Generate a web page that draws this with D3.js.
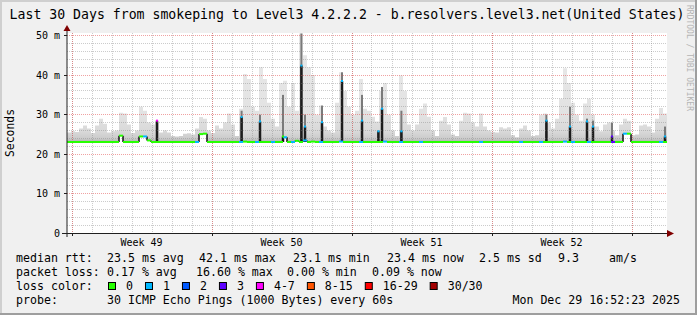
<!DOCTYPE html>
<html>
<head>
<meta charset="utf-8">
<title>Last 30 Days from smokeping to Level3 4.2.2.2</title>
<script src="https://d3js.org/d3.v7.min.js"></script>
<style>
  body { margin: 0; background: #fff; }
  svg text { font-family: "DejaVu Sans Mono", monospace; fill: #000; }
</style>
</head>
<body>
<div id="chart"></div>
<script>
// ---- data ----
const startTime = new Date(Date.UTC(2025, 10, 29, 18, 36)); // left edge of the graph
const endTime = new Date(Date.UTC(2025, 11, 29, 18, 36));
const bucketHours = 4.8; // one value every 4.8 h (150 values over 30 days)

// median rtt in ms per bucket
const medianMs = [
  23.1, 23.1, 23.1, 23.1, 23.1, 23.1, 23.1, 23.1, 23.1, 23.1,
  23.1, 23.1, 23.1, 24.7, 23.1, 23.1, 23.1, 23.1, 24.5, 24.5,
  23.5, 23.1, 23.1, 23.1, 23.1, 23.1, 23.1, 23.1, 23.1, 23.1,
  23.1, 23.1, 23.1, 25.1, 25.2, 23.1, 23.1, 23.1, 23.1, 23.1,
  23.1, 23.1, 23.1, 23.1, 23.2, 23.1, 23.1, 23.1, 23.1, 23.1,
  23.1, 23.1, 23.1, 23.1, 24.3, 23.1, 23.1, 23.4, 23.1, 23.5,
  23.1, 23.2, 23.1, 23.1, 23.1, 23.1, 23.1, 23.1, 23.2, 23.1,
  23.1, 23.1, 23.1, 23.1, 23.1, 23.1, 23.1, 23.1, 23.1, 23.2,
  23.1, 23.1, 23.1, 23.1, 23.1, 23.1, 23.1, 23.1, 23.1, 23.1,
  23.1, 23.1, 23.1, 23.1, 23.1, 23.1, 23.1, 23.1, 23.1, 23.1,
  23.1, 23.1, 23.1, 23.1, 23.1, 23.1, 23.1, 23.1, 23.1, 23.1,
  23.1, 23.1, 23.1, 23.1, 23.1, 23.1, 23.1, 23.1, 23.1, 23.1,
  23.1, 23.1, 23.1, 23.1, 23.2, 23.1, 23.1, 23.1, 23.1, 23.1,
  23.1, 23.1, 23.1, 23.1, 23.1, 23.1, 23.1, 23.1, 23.1, 25.2,
  25.2, 23.1, 23.1, 23.1, 23.1, 23.1, 23.1, 23.1, 23.1, 23.1
];

// highest ping of the bucket (top of the smoke) in ms
const smokeTopMs = [
  25.5, 25.8, 25.6, 26.5, 27.3, 26.5, 25.4, 27.3, 29.0, 27.7,
  25.5, 25.8, 26.0, 30.5, 30.3, 27.5, 25.4, 26.0, 32.0, 31.0,
  28.0, 27.5, 28.0, 25.5, 26.0, 25.5, 24.6, 24.5, 24.6, 25.2,
  25.3, 25.0, 26.5, 29.4, 29.0, 26.0, 25.4, 27.3, 26.5, 28.0,
  30.3, 27.5, 24.6, 31.5, 40.3, 39.0, 32.0, 31.0, 42.0, 39.0,
  33.0, 29.0, 27.0, 38.0, 38.6, 32.0, 38.0, 31.0, 50.5, 45.0,
  42.0, 40.0, 30.0, 32.3, 27.0, 26.0, 25.5, 33.0, 40.7, 36.0,
  32.0, 30.0, 31.0, 39.0, 31.5, 31.0, 29.5, 28.3, 36.0, 38.0,
  30.0, 26.0, 24.6, 39.9, 36.0, 27.5, 26.0, 27.5, 31.5, 32.8,
  29.5, 26.0, 24.6, 28.5, 29.4, 27.5, 25.0, 24.6, 28.5, 30.5,
  30.3, 28.0, 27.0, 30.3, 27.0, 26.0, 25.6, 25.5, 26.8, 26.5,
  26.8, 24.8, 24.3, 26.5, 27.3, 26.0, 24.6, 24.8, 30.0, 30.3,
  28.0, 26.5, 29.0, 34.0, 41.7, 38.0, 33.0, 30.0, 28.5, 32.8,
  34.0, 30.0, 27.0, 25.8, 27.5, 28.0, 26.0, 24.8, 27.5, 29.0,
  28.5, 24.8, 25.0, 27.3, 27.5, 27.0, 25.5, 29.0, 31.7, 30.3
];

// lost pings per bucket (index into lossColors)
const lossClass = [
  0, 0, 0, 0, 0, 0, 0, 0, 0, 0,
  0, 0, 0, 0, 0, 0, 0, 0, 0, 1,
  0, 0, 0, 0, 0, 0, 0, 0, 0, 0,
  0, 0, 1, 0, 0, 0, 0, 0, 0, 0,
  0, 0, 0, 1, 0, 0, 0, 1, 0, 0,
  0, 1, 0, 0, 1, 0, 1, 0, 0, 1,
  0, 0, 0, 1, 0, 0, 0, 0, 1, 0,
  0, 0, 0, 1, 0, 0, 0, 0, 0, 1,
  0, 0, 0, 1, 0, 0, 0, 0, 1, 0,
  0, 0, 0, 0, 0, 0, 0, 0, 0, 0,
  0, 0, 0, 1, 0, 0, 0, 0, 0, 0,
  0, 0, 0, 1, 0, 0, 0, 0, 1, 0,
  0, 0, 0, 0, 1, 0, 1, 0, 0, 0,
  1, 0, 0, 0, 0, 0, 3, 0, 0, 1,
  0, 0, 0, 0, 0, 0, 0, 0, 1, 0
];

// short bursts where most pings of a step were slow (days after start)
const spikeDay     = [4.5, 8.73, 9.65, 10.8, 11.72, 11.9, 12.75, 13.75, 14.75, 15.57, 15.75, 16.72, 23.97, 25.15, 26.0, 26.3, 27.25, 29.9];
const spikeMedMs   = [28.5, 29.4, 28.3, 24.5, 42.4, 27.0, 28.1, 38.5, 28.5, 25.8, 31.5, 25.8, 28.5, 27.0, 28.3, 27.0, 24.5, 24.5];
const spikeUpperMs = [28.5, 31.0, 30.0, 35.0, 50.5, 30.0, 32.3, 40.7, 35.0, 26.0, 37.0, 31.0, 30.0, 32.0, 29.0, 28.5, 28.0, 27.0];
const spikeLoss    = [4, 1, 1, 0, 1, 1, 1, 1, 1, 1, 1, 1, 1, 1, 1, 1, 3, 1];

const yTicks = [0, 10, 20, 30, 40, 50];
const yTickLabels = ["0", "10 m", "20 m", "30 m", "40 m", "50 m"];
const weekLabels = ["Week 49", "Week 50", "Week 51", "Week 52"];

const lossLabels = ["0", "1", "2", "3", "4-7", "8-15", "16-29", "30/30"];
const lossColors = ["#26ff00", "#00b8ff", "#0059ff", "#5e00ff", "#ff00ff", "#ff5500", "#ff0000", "#a10000"];

const rttStats = ["23.5 ms avg", "42.1 ms max", "23.1 ms min", "23.4 ms now", "2.5 ms sd", "9.3", "am/s"];
const lossStats = ["0.17 % avg", "16.60 % max", "0.00 % min", "0.09 % now"];
const probeText = "30 ICMP Echo Pings (1000 Bytes) every 60s";
const stampText = "Mon Dec 29 16:52:23 2025";
const titleText = "Last 30 Days from smokeping to Level3 4.2.2.2 - b.resolvers.level3.net(United States)";

// ---- layout ----
const W = 697, H = 315;
const plot = { left: 67, right: 667, top: 33, bottom: 233 };
const rttX = [107, 199, 293, 387, 479, 558, 609];
const lossX = [107, 196, 287, 372];
const rowY = [262, 276, 290, 304];

const svg = d3.select("#chart").append("svg")
  .attr("width", W).attr("height", H)
  .style("display", "block");

// background + rrdtool shaded frame
svg.append("rect").attr("width", W).attr("height", H).attr("fill", "#f0f0f0");
svg.append("rect").attr("x", 0).attr("y", 0).attr("width", W).attr("height", 2).attr("fill", "#cfcfcf");
svg.append("rect").attr("x", 0).attr("y", 0).attr("width", 2).attr("height", H).attr("fill", "#cfcfcf");
svg.append("rect").attr("x", 0).attr("y", H - 2).attr("width", W).attr("height", 2).attr("fill", "#9e9e9e");
svg.append("rect").attr("x", W - 2).attr("y", 0).attr("width", 2).attr("height", H).attr("fill", "#9e9e9e");

svg.append("rect")
  .attr("x", plot.left).attr("y", plot.top)
  .attr("width", plot.right - plot.left).attr("height", plot.bottom - plot.top)
  .attr("fill", "#ffffff");

// scales
const x = d3.scaleUtc().domain([startTime, endTime]).range([plot.left, plot.right]);
const y = d3.scaleLinear().domain([0, 50.5]).range([plot.bottom + 0.5, plot.top + 0.5]);

const stepMs = bucketHours * 3600 * 1000;
const buckets = medianMs.map((m, i) => ({
  t0: new Date(+startTime + i * stepMs),
  t1: new Date(+startTime + (i + 1) * stepMs),
  med: m,
  top: smokeTopMs[i],
  loss: lossClass[i]
}));

const defs = svg.append("defs");
defs.append("clipPath").attr("id", "plotClip")
  .append("rect")
  .attr("x", plot.left).attr("y", plot.top)
  .attr("width", plot.right - plot.left).attr("height", plot.bottom - plot.top + 1);

// smoke darker near the median, lighter towards the slow pings
const grad = defs.append("linearGradient")
  .attr("id", "smoke")
  .attr("gradientUnits", "userSpaceOnUse")
  .attr("x1", 0).attr("x2", 0)
  .attr("y1", y(23.1)).attr("y2", y(40));
grad.selectAll("stop")
  .data([[0, "#acacac"], [0.05, "#cbcbcb"], [0.16, "#d9d9d9"], [0.4, "#e2e2e2"], [1, "#e6e6e6"]])
  .join("stop")
  .attr("offset", (d) => d[0])
  .attr("stop-color", (d) => d[1]);

const g = svg.append("g").attr("clip-path", "url(#plotClip)");

// smoke
const smokeArea = d3.area()
  .x((d) => x(d.t0))
  .y0((d) => y(d.med))
  .y1((d) => y(d.top))
  .curve(d3.curveStepAfter);
const last = buckets[buckets.length - 1];
g.append("path")
  .datum(buckets.concat([{ t0: last.t1, med: last.med, top: last.top }]))
  .attr("d", smokeArea)
  .attr("fill", "url(#smoke)");

// bursts
const spikes = spikeDay.map((d, i) => ({
  t: new Date(+startTime + d * 864e5),
  med: spikeMedMs[i],
  upper: spikeUpperMs[i],
  loss: spikeLoss[i]
}));
g.selectAll(".spikeUpper").data(spikes).join("rect")
  .attr("class", "spikeUpper")
  .attr("x", (d) => x(d.t) - 1).attr("width", 2)
  .attr("y", (d) => y(d.upper))
  .attr("height", (d) => y(23.1) - y(d.upper))
  .attr("fill", "#7a7a7a");
g.selectAll(".spikeCore").data(spikes).join("rect")
  .attr("class", "spikeCore")
  .attr("x", (d) => x(d.t) - 1.25).attr("width", 2.5)
  .attr("y", (d) => y(d.med))
  .attr("height", (d) => y(23.1) - y(d.med))
  .attr("fill", "#1c1c1c");

// grid
const dayTicks = d3.utcDay.range(startTime, endTime);
const weekTicks = d3.utcSunday.range(startTime, endTime);
const crisp = (v) => Math.round(v) + 0.5;

const grid = svg.append("g").attr("stroke-dasharray", "1,1").attr("stroke-width", 1);
grid.selectAll(".vminor").data(dayTicks).join("line")
  .attr("x1", (d) => crisp(x(d))).attr("x2", (d) => crisp(x(d)))
  .attr("y1", plot.top).attr("y2", plot.bottom)
  .attr("stroke", "rgba(128,128,128,0.4)");
grid.selectAll(".hminor").data(d3.range(2, 51, 2).filter((v) => v % 10 !== 0)).join("line")
  .attr("x1", plot.left).attr("x2", plot.right)
  .attr("y1", (d) => crisp(y(d) - 0.5)).attr("y2", (d) => crisp(y(d) - 0.5))
  .attr("stroke", "rgba(128,128,128,0.4)");
grid.selectAll(".vmajor").data(weekTicks).join("line")
  .attr("x1", (d) => crisp(x(d))).attr("x2", (d) => crisp(x(d)))
  .attr("y1", plot.top).attr("y2", plot.bottom)
  .attr("stroke", "rgba(225,70,70,0.5)");
grid.selectAll(".hmajor").data(yTicks.filter((v) => v > 0)).join("line")
  .attr("x1", plot.left).attr("x2", plot.right)
  .attr("y1", (d) => crisp(y(d) - 0.5)).attr("y2", (d) => crisp(y(d) - 0.5))
  .attr("stroke", "rgba(225,70,70,0.5)");

// median line coloured by loss
const med = svg.append("g").attr("clip-path", "url(#plotClip)");
med.selectAll(".jump").data(buckets.slice(1).filter((d, i) => d.med !== buckets[i].med)).join("line")
  .attr("class", "jump")
  .attr("x1", (d) => x(d.t0)).attr("x2", (d) => x(d.t0))
  .attr("y1", (d) => y(buckets[buckets.indexOf(d) - 1].med))
  .attr("y2", (d) => y(d.med))
  .attr("stroke", "#111").attr("stroke-width", 1.5);
med.selectAll(".seg").data(buckets).join("line")
  .attr("class", "seg")
  .attr("x1", (d) => x(d.t0)).attr("x2", (d) => x(d.t1))
  .attr("y1", (d) => y(d.med)).attr("y2", (d) => y(d.med))
  .attr("stroke", (d) => lossColors[d.loss]).attr("stroke-width", 2);
med.selectAll(".spikeDot").data(spikes).join("rect")
  .attr("x", (d) => x(d.t) - 1).attr("width", 2)
  .attr("y", (d) => y(d.med) - 1).attr("height", 2)
  .attr("fill", (d) => lossColors[d.loss]);

// axes
const axis = svg.append("g");
axis.append("line")
  .attr("x1", 62).attr("x2", plot.right + 2)
  .attr("y1", plot.bottom + 0.5).attr("y2", plot.bottom + 0.5)
  .attr("stroke", "#202020");
axis.append("path")
  .attr("d", `M${plot.right},${plot.bottom - 3}L${plot.right + 7},${plot.bottom + 0.5}L${plot.right},${plot.bottom + 4}Z`)
  .attr("fill", "#800000");
axis.append("line")
  .attr("x1", plot.left).attr("x2", plot.left)
  .attr("y1", plot.bottom + 4).attr("y2", plot.top - 3)
  .attr("stroke", "#202020");
axis.append("path")
  .attr("d", `M${plot.left - 3.5},${plot.top - 2}L${plot.left},${plot.top - 8}L${plot.left + 3.5},${plot.top - 2}Z`)
  .attr("fill", "#800000");
axis.selectAll(".ytick").data(yTicks).join("line")
  .attr("x1", plot.left - 3).attr("x2", plot.left)
  .attr("y1", (d) => crisp(y(d) - 0.5)).attr("y2", (d) => crisp(y(d) - 0.5))
  .attr("stroke", "#202020");
axis.selectAll(".xtick").data(weekTicks).join("line")
  .attr("x1", (d) => crisp(x(d))).attr("x2", (d) => crisp(x(d)))
  .attr("y1", plot.bottom).attr("y2", plot.bottom + 3)
  .attr("stroke", "#202020");

axis.selectAll(".ylabel").data(yTicks).join("text")
  .attr("x", 60).attr("y", (d) => y(d) + 3.5)
  .attr("text-anchor", "end")
  .style("font-size", "10px")
  .text((d, i) => yTickLabels[i]);

axis.selectAll(".xlabel").data(weekTicks.slice(0, weekLabels.length)).join("text")
  .attr("x", (d) => x(new Date(+d + 3.5 * 864e5)))
  .attr("y", 246)
  .attr("text-anchor", "middle")
  .style("font-size", "10px")
  .text((d, i) => weekLabels[i]);

svg.append("text")
  .attr("transform", `translate(14,${(plot.top + plot.bottom) / 2}) rotate(-90)`)
  .attr("text-anchor", "middle")
  .style("font-size", "11.4px")
  .text("Seconds");

// title + watermark
svg.append("text")
  .attr("x", 347).attr("y", 18.5)
  .attr("text-anchor", "middle")
  .style("font-size", "13.2px")
  .text(titleText);

svg.append("text")
  .attr("transform", "translate(686.5,5) rotate(90)")
  .style("font-size", "8px")
  .style("fill", "#b4b4b4")
  .text("RRDTOOL / TOBI OETIKER");

// legend
const legend = svg.append("g").style("font-size", "11.6px");
legend.append("text").attr("x", 16).attr("y", rowY[0]).text("median rtt:");
legend.selectAll(".rtt").data(rttStats).join("text")
  .attr("x", (d, i) => rttX[i]).attr("y", rowY[0]).text((d) => d);

legend.append("text").attr("x", 16).attr("y", rowY[1]).text("packet loss:");
legend.selectAll(".loss").data(lossStats).join("text")
  .attr("x", (d, i) => lossX[i]).attr("y", rowY[1]).text((d) => d);

legend.append("text").attr("x", 16).attr("y", rowY[2]).text("loss color:");
let sx = 108;
lossLabels.forEach((lab, i) => {
  legend.append("rect")
    .attr("x", sx + 0.5).attr("y", rowY[2] - 7.5)
    .attr("width", 7).attr("height", 7)
    .attr("fill", lossColors[i]).attr("stroke", "#000").attr("stroke-width", 1);
  legend.append("text").attr("x", sx + 18).attr("y", rowY[2]).text(lab);
  sx = sx + 18 + lab.length * 6.98 + 12;
});

legend.append("text").attr("x", 16).attr("y", rowY[3]).text("probe:");
legend.append("text").attr("x", 107).attr("y", rowY[3]).text(probeText);
legend.append("text").attr("x", 680).attr("y", rowY[3]).attr("text-anchor", "end").text(stampText);
</script>
</body>
</html>
